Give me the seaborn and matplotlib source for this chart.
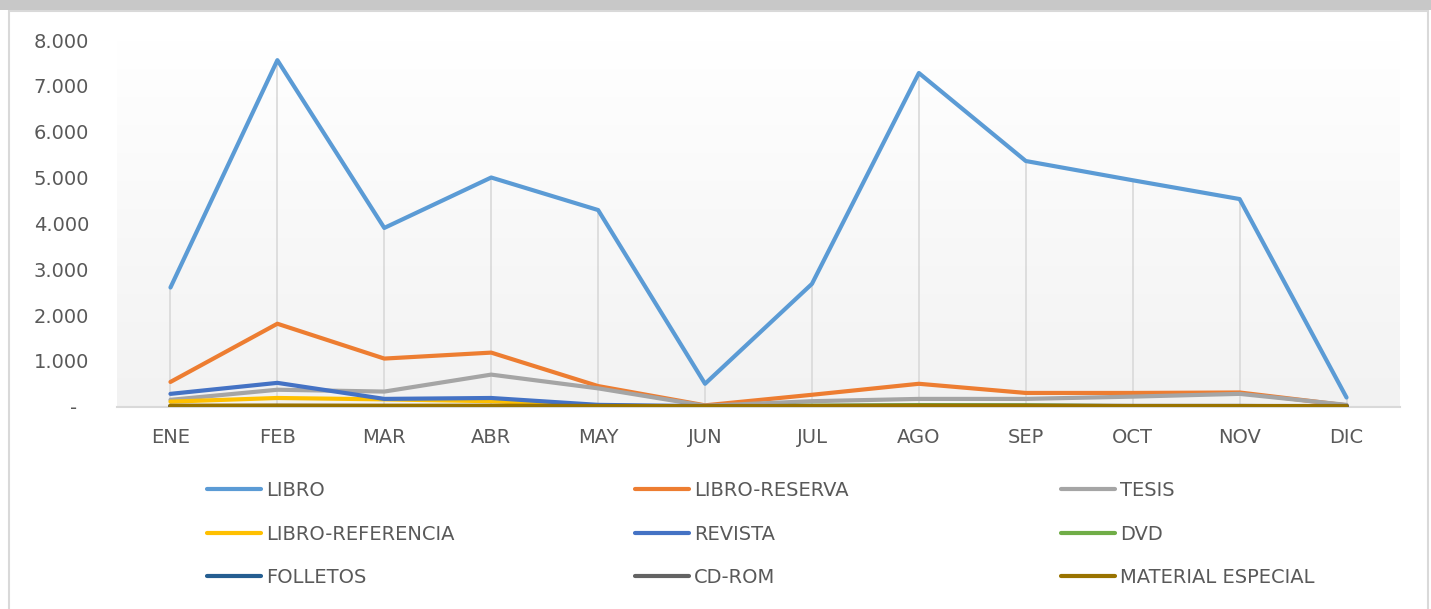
import pandas as pd
import matplotlib
matplotlib.use('Agg')
import matplotlib.pyplot as plt
import seaborn as sns
import numpy as np
from matplotlib.patches import Rectangle
from matplotlib.ticker import FuncFormatter

sns.set_style('white')
plt.rcParams['font.family'] = ['DejaVu Sans']

# datos
meses = ['ENE', 'FEB', 'MAR', 'ABR', 'MAY', 'JUN', 'JUL', 'AGO', 'SEP', 'OCT', 'NOV', 'DIC']
libro = [2600, 7560, 3900, 5000, 4290, 500, 2680, 7280, 5360, 4940, 4530, 200]
libro_reserva = [540, 1810, 1050, 1180, 450, 30, 260, 500, 300, 300, 310, 30]
tesis = [150, 370, 330, 700, 400, 20, 120, 170, 170, 220, 280, 40]
libro_referencia = [110, 190, 160, 120, 20, 5, 5, 5, 5, 5, 5, 5]
revista = [280, 520, 170, 190, 40, 10, 15, 20, 20, 15, 15, 5]
dvd = [5, 5, 5, 5, 5, 5, 20, 35, 30, 10, 5, 5]
folletos = [10, 10, 10, 10, 5, 5, 5, 5, 5, 5, 5, 5]
cd_rom = [5, 5, 5, 5, 5, 5, 5, 5, 5, 5, 5, 5]
material_especial = [20, 25, 20, 20, 15, 10, 15, 20, 20, 15, 15, 10]

series = ['LIBRO', 'LIBRO-RESERVA', 'TESIS', 'LIBRO-REFERENCIA', 'REVISTA', 'DVD',
          'FOLLETOS', 'CD-ROM', 'MATERIAL ESPECIAL']
valores = [libro, libro_reserva, tesis, libro_referencia, revista, dvd,
           folletos, cd_rom, material_especial]
colores = ['#5B9BD5', '#ED7D31', '#A5A5A5', '#FFC000', '#4472C4', '#70AD47',
           '#255E91', '#636363', '#997300']

df = pd.DataFrame({
    'mes': np.tile(np.arange(len(meses)), len(series)),
    'serie': np.repeat(series, len(meses)),
    'valor': np.concatenate(valores),
})

W, H = 1431, 609
fig = plt.figure(figsize=(W / 100, H / 100), dpi=100)

# marco del gráfico
fig.patches.append(Rectangle((0, 1 - 10 / H), 1, 10 / H, transform=fig.transFigure,
                             facecolor='#c8c8c8', edgecolor='none', zorder=0))
fig.patches.append(Rectangle((8.5 / W, -0.01), (1428 - 8.5) / W, 1 - 10.5 / H + 0.01,
                             transform=fig.transFigure, facecolor='none',
                             edgecolor='#d9d9d9', linewidth=1.5, zorder=0))

ax = fig.add_axes([117 / W, (H - 406.7) / H, (1400 - 117) / W, (406.7 - 40) / H])

# fondo degradado del área de trazado
grad = np.linspace(1, 0, 256).reshape(-1, 1)
ax.imshow(grad, extent=(0, 1, 0, 1), transform=ax.transAxes, aspect='auto',
          cmap=matplotlib.colors.LinearSegmentedColormap.from_list('g', ['#f2f2f2', '#ffffff']),
          zorder=0)

# líneas de unión (drop lines)
maximos = np.max(np.array(valores), axis=0)
ax.vlines(np.arange(len(meses)), 0, maximos, color='#d9d9d9', linewidth=1.2, zorder=1)

sns.lineplot(data=df, x='mes', y='valor', hue='serie', hue_order=series,
             palette=colores, linewidth=3, sort=False, legend=False, ax=ax,
             solid_capstyle='round', zorder=3)

ax.set_xlim(-0.5, len(meses) - 0.5)
ax.set_ylim(0, 8000)
ax.set_yticks(np.arange(0, 8001, 1000))
ax.yaxis.set_major_formatter(FuncFormatter(
    lambda v, p: '-  ' if v == 0 else f'{int(v):,}'.replace(',', '.')))
ax.set_xticks(np.arange(len(meses)))
ax.set_xticklabels(meses)
ax.set_xlabel('')
ax.set_ylabel('')
ax.tick_params(axis='both', length=0, labelsize=14, labelcolor='#595959')
ax.tick_params(axis='x', pad=15.5)
ax.tick_params(axis='y', pad=20)
for s in ['top', 'right', 'left']:
    ax.spines[s].set_visible(False)
ax.spines['bottom'].set_color('#d9d9d9')
ax.spines['bottom'].set_linewidth(1.5)
ax.spines['bottom'].set_zorder(2)
ax.grid(False)

# leyenda en tres columnas
handles = [plt.Line2D([], [], color=c, linewidth=3, solid_capstyle='round') for c in colores]
x_cols = [207, 635, 1061]
for k, xc in enumerate(x_cols):
    idx = [k, k + 3, k + 6]
    leg = fig.legend([handles[i] for i in idx], [series[i] for i in idx],
                     loc='upper left', bbox_to_anchor=(xc / W, 1 - 481 / H),
                     frameon=False, fontsize=14, handlelength=2.8, handletextpad=0.25,
                     labelspacing=1.26, borderpad=0, borderaxespad=0)
    for t in leg.get_texts():
        t.set_color('#595959')

fig.savefig('out.png', dpi=100, facecolor='white')
